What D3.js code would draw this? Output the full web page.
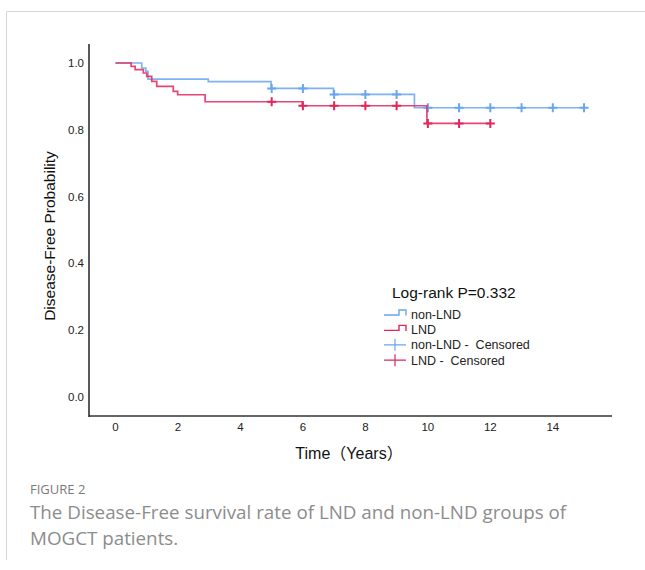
<!DOCTYPE html>
<html>
<head>
<meta charset="utf-8">
<script src="https://cdn.jsdelivr.net/npm/d3@7"></script>
<style>
body { margin: 0; background: #fff; }
svg { display: block; }
</style>
</head>
<body>
<div id="chart"></div>
<script>
// Kaplan-Meier steps
var nonLndTimes = [0, 0.84, 0.97, 1.04, 2.97, 4.98, 6.98, 9.57];
var nonLndSurv = [1, 0.985, 0.975, 0.952, 0.944, 0.924, 0.906, 0.866];
var nonLndEnd = 15;
var nonLndCensored = [5, 6, 7, 8, 9, 10, 11, 12, 13, 14, 15];

var lndTimes = [0, 0.5, 0.63, 0.89, 1.0, 1.16, 1.32, 1.85, 1.99, 2.87, 5.98, 9.97];
var lndSurv = [1, 0.99, 0.98, 0.97, 0.96, 0.945, 0.93, 0.915, 0.905, 0.884, 0.872, 0.819];
var lndEnd = 12;
var lndCensored = [5, 6, 7, 8, 9, 10, 11, 12];

var xTicks = [0, 2, 4, 6, 8, 10, 12, 14];
var yTicks = [0, 0.2, 0.4, 0.6, 0.8, 1.0];

var blue = "#6aa5ee";
var red = "#e2265a";
var font = "'Liberation Sans', Arial, 'Noto Sans CJK SC', sans-serif";

var svgWidth = 645;
var svgHeight = 570;

var svg = d3.select("#chart")
  .append("svg")
  .attr("width", svgWidth)
  .attr("height", svgHeight);

// figure frame (top and left edges visible)
svg.append("path")
  .attr("d", "M6.5,560 V11.5 H645")
  .attr("fill", "none")
  .attr("stroke", "#d6d6d6")
  .attr("stroke-width", 1);

var x = d3.scaleLinear().domain([0, 14]).range([115.5, 552.8]);
var y = d3.scaleLinear().domain([0, 1]).range([397, 63]);

// axes lines
svg.append("line")
  .attr("x1", 89).attr("x2", 612)
  .attr("y1", 416).attr("y2", 416)
  .attr("stroke", "#666").attr("stroke-width", 2);
svg.append("line")
  .attr("x1", 89).attr("x2", 89)
  .attr("y1", 44).attr("y2", 417)
  .attr("stroke", "#222").attr("stroke-width", 1.5);

// tick labels
svg.selectAll("text.xtick")
  .data(xTicks)
  .enter()
  .append("text")
  .attr("class", "xtick")
  .attr("x", d => x(d))
  .attr("y", 431)
  .attr("text-anchor", "middle")
  .attr("font-family", font)
  .attr("font-size", 11.5)
  .attr("fill", "#222")
  .text(d => d);

svg.selectAll("text.ytick")
  .data(yTicks)
  .enter()
  .append("text")
  .attr("class", "ytick")
  .attr("x", 84)
  .attr("y", d => y(d) + 4)
  .attr("text-anchor", "end")
  .attr("font-family", font)
  .attr("font-size", 11.5)
  .attr("fill", "#222")
  .text(d => d.toFixed(1));

// axis titles
svg.append("text")
  .attr("transform", "translate(55, 236) rotate(-90)")
  .attr("text-anchor", "middle")
  .attr("font-family", font)
  .attr("font-size", 15.5)
  .attr("fill", "#111")
  .text("Disease-Free Probability");

svg.append("text")
  .attr("x", 349)
  .attr("y", 459)
  .attr("text-anchor", "middle")
  .attr("font-family", font)
  .attr("font-size", 16)
  .attr("fill", "#111")
  .text("Time（Years）");

// survival curves
function stepData(times, surv, end) {
  var pts = times.map((t, i) => [t, surv[i]]);
  pts.push([end, surv[surv.length - 1]]);
  return pts;
}

function survAt(times, surv, t) {
  var i = d3.bisectRight(times, t) - 1;
  return surv[i];
}

var line = d3.line()
  .x(d => x(d[0]))
  .y(d => y(d[1]))
  .curve(d3.curveStepAfter);

var groups = [
  {times: nonLndTimes, surv: nonLndSurv, end: nonLndEnd, cens: nonLndCensored, color: blue},
  {times: lndTimes, surv: lndSurv, end: lndEnd, cens: lndCensored, color: red}
];

groups.forEach(function(g) {
  svg.append("path")
    .attr("d", line(stepData(g.times, g.surv, g.end)))
    .attr("fill", "none")
    .attr("stroke", g.color)
    .attr("stroke-width", 1.7)
    .attr("opacity", 0.85);

  svg.selectAll(null)
    .data(g.cens)
    .enter()
    .append("path")
    .attr("d", function(t) {
      var cx = x(t), cy = y(survAt(g.times, g.surv, t));
      return "M" + (cx - 4.5) + "," + cy + "H" + (cx + 4.5) +
             "M" + cx + "," + (cy - 4.5) + "V" + (cy + 4.5);
    })
    .attr("stroke", g.color)
    .attr("stroke-width", 2)
    .attr("fill", "none");
});

// legend
svg.append("text")
  .attr("x", 392)
  .attr("y", 298)
  .attr("font-family", font)
  .attr("font-size", 15.5)
  .attr("fill", "#111")
  .text("Log-rank P=0.332");

var legendItems = [
  {label: "non-LND", color: blue, type: "step"},
  {label: "LND", color: red, type: "step"},
  {label: "non-LND -  Censored", color: blue, type: "cross"},
  {label: "LND -  Censored", color: red, type: "cross"}
];

var legend = svg.selectAll("g.legend")
  .data(legendItems)
  .enter()
  .append("g")
  .attr("class", "legend")
  .attr("transform", (d, i) => `translate(384, ${314 + i * 15.4})`);

legend.append("path")
  .attr("d", d => d.type === "step"
    ? "M0,1 H15 V-4 H22 V1.5"
    : "M0,0 H22 M11,-6 V6")
  .attr("fill", "none")
  .attr("stroke", d => d.color)
  .attr("stroke-width", d => d.type === "step" ? 1.4 : 1.2);

legend.append("text")
  .attr("x", 27)
  .attr("y", 4.5)
  .attr("font-family", font)
  .attr("font-size", 12.5)
  .attr("fill", "#222")
  .attr("xml:space", "preserve")
  .style("white-space", "pre")
  .text(d => d.label);

// caption
var capFont = "'Open Sans', 'Noto Sans', sans-serif";
svg.append("text")
  .attr("x", 30)
  .attr("y", 494)
  .attr("font-family", capFont)
  .attr("font-size", 13)
  .attr("fill", "#7a7a7a")
  .text("FIGURE 2");

var capLines = ["The Disease-Free survival rate of LND and non-LND groups of", "MOGCT patients."];
svg.selectAll("text.cap")
  .data(capLines)
  .enter()
  .append("text")
  .attr("class", "cap")
  .attr("x", 30)
  .attr("y", (d, i) => 519 + i * 26)
  .attr("font-family", capFont)
  .attr("font-size", 18.8)
  .attr("fill", "#8c8c8c")
  .text(d => d);
</script>
</body>
</html>
